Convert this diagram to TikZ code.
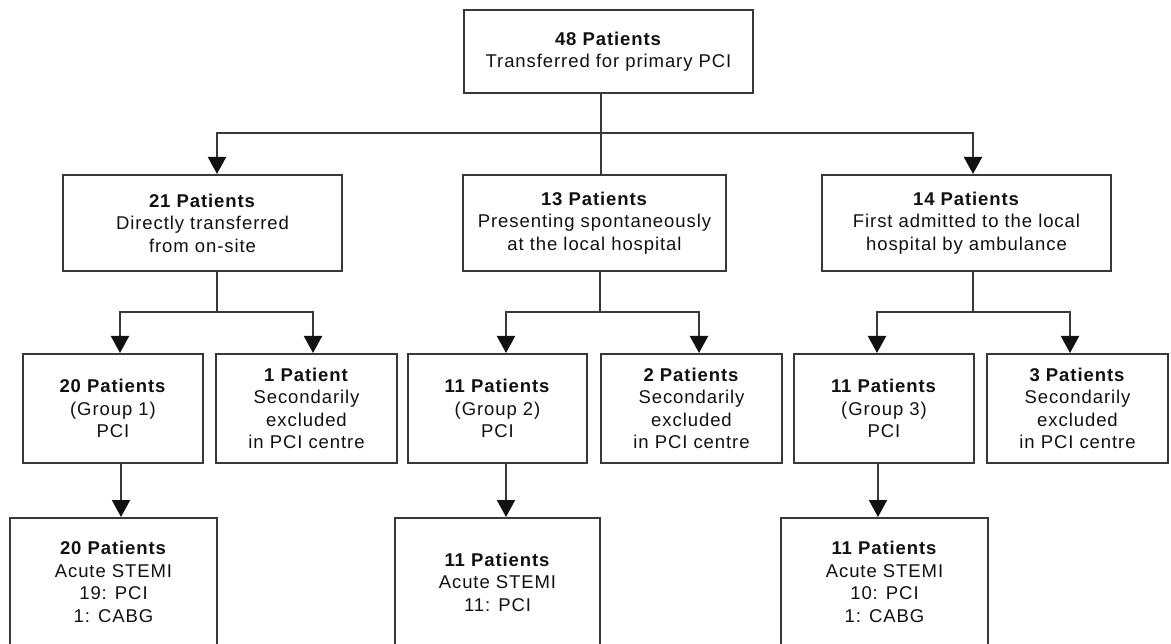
\documentclass[tikz,border=0pt]{standalone}
\usepackage{fontspec}
\setmainfont{Liberation Sans}[LetterSpace=5]
\usetikzlibrary{arrows.meta}
\definecolor{ln}{HTML}{383838}
\definecolor{tx}{HTML}{111111}
\definecolor{hd}{HTML}{111111}
\begin{document}
\begin{tikzpicture}[x=1pt,y=-1pt,
  box/.style={draw=ln, line width=2pt, fill=white, text=tx, align=center, inner sep=0pt,
    font=\fontsize{18.5}{22.5}\selectfont},
  conn/.style={draw=ln, line width=2pt, line join=miter},
  tip/.tip={Triangle[width=18pt,length=17pt,fill=hd,color=hd]},
  arr/.style={conn, -tip},
  arr2/.style={conn, tip-tip}]
\useasboundingbox[fill=white] (0,0) rectangle (1171,644);
\clip (0,0) rectangle (1171,644);

% level 1
\node[box, minimum width=289pt, minimum height=83pt] (top) at (608.5,51.5)
  {\textbf{48 Patients}\\Transferred for primary PCI};

% level 2
\node[box, minimum width=279pt, minimum height=96pt] (A) at (202.5,223)
  {\textbf{21 Patients}\\Directly transferred\\from on-site};
\node[box, minimum width=263pt, minimum height=96pt] (B) at (594.5,223)
  {\textbf{13 Patients}\\Presenting spontaneously\\at the local hospital};
\node[box, minimum width=289pt, minimum height=96pt] (C) at (966.5,223)
  {\textbf{14 Patients}\\First admitted to the local\\hospital by ambulance};

% level 3
\node[box, minimum width=180pt, minimum height=109pt] (g1) at (113,408.5)
  {\textbf{20 Patients}\\(Group 1)\\PCI};
\node[box, minimum width=181pt, minimum height=109pt] (x1) at (306.5,408.5)
  {\textbf{1 Patient}\\Secondarily\\excluded\\in PCI centre};
\node[box, minimum width=179pt, minimum height=109pt] (g2) at (497.5,408.5)
  {\textbf{11 Patients}\\(Group 2)\\PCI};
\node[box, minimum width=181pt, minimum height=109pt] (x2) at (691.5,408.5)
  {\textbf{2 Patients}\\Secondarily\\excluded\\in PCI centre};
\node[box, minimum width=180pt, minimum height=109pt] (g3) at (884,408.5)
  {\textbf{11 Patients}\\(Group 3)\\PCI};
\node[box, minimum width=181pt, minimum height=109pt] (x3) at (1077.5,408.5)
  {\textbf{3 Patients}\\Secondarily\\excluded\\in PCI centre};

% level 4
\node[box, minimum width=207pt, minimum height=128pt] (a1) at (113.5,582)
  {\textbf{20 Patients}\\Acute STEMI\\19: PCI\\1: CABG};
\node[box, minimum width=205pt, minimum height=128pt] (a2) at (497.5,582)
  {\textbf{11 Patients}\\Acute STEMI\\11: PCI};
\node[box, minimum width=207pt, minimum height=128pt] (a3) at (884.5,582)
  {\textbf{11 Patients}\\Acute STEMI\\10: PCI\\1: CABG};

% connectors level 1 -> 2
\coordinate (j0) at (601,133);
\coordinate (jL) at (217,133);
\coordinate (jR) at (973,133);
\draw[conn] (top.south -| j0) -- (j0) -- (j0 |- B.north);
\draw[arr2] (jL |- A.north) -- (jL) -- (jR) -- (jR |- C.north);

% connectors level 2 -> 3
\coordinate (ja) at (217,312);
\coordinate (ja1) at (120,312);
\coordinate (ja2) at (313,312);
\draw[conn] (A.south -| ja) -- (ja);
\draw[arr2] (ja1 |- g1.north) -- (ja1) -- (ja2) -- (ja2 |- x1.north);

\coordinate (jb) at (600,312);
\coordinate (jb1) at (506,312);
\coordinate (jb2) at (699,312);
\draw[conn] (B.south -| jb) -- (jb);
\draw[arr2] (jb1 |- g2.north) -- (jb1) -- (jb2) -- (jb2 |- x2.north);

\coordinate (jc) at (973,312);
\coordinate (jc1) at (877,312);
\coordinate (jc2) at (1070,312);
\draw[conn] (C.south -| jc) -- (jc);
\draw[arr2] (jc1 |- g3.north) -- (jc1) -- (jc2) -- (jc2 |- x3.north);

% connectors level 3 -> 4
\coordinate (k1) at (121,0);
\coordinate (k2) at (506,0);
\coordinate (k3) at (878,0);
\draw[arr] (g1.south -| k1) -- (a1.north -| k1);
\draw[arr] (g2.south -| k2) -- (a2.north -| k2);
\draw[arr] (g3.south -| k3) -- (a3.north -| k3);
\end{tikzpicture}
\end{document}
